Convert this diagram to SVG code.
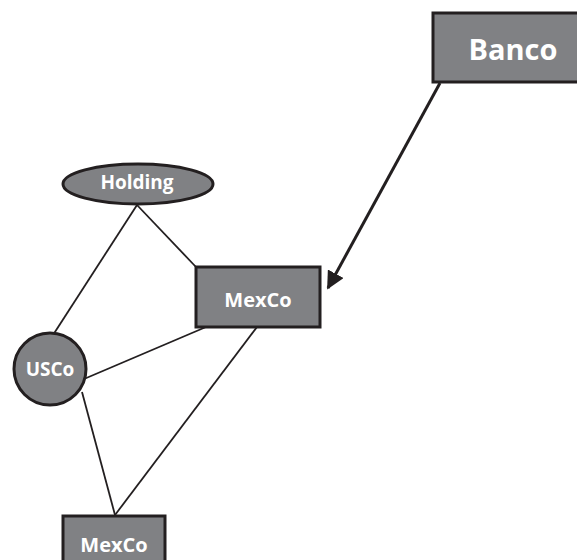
<svg xmlns="http://www.w3.org/2000/svg" width="577" height="560" viewBox="0 0 577 560">
<style>
.n{fill:#808184;stroke:#231f20;stroke-width:3}
.t{fill:#fff;font-family:"Open Sans","Liberation Sans",sans-serif;font-weight:bold;text-anchor:middle;dominant-baseline:central}
.e{stroke:#231f20;stroke-width:1.8;fill:none}
</style>
<defs>
<marker id="ah" viewBox="0 0 10 10" refX="9" refY="5" markerWidth="6" markerHeight="6" markerUnits="strokeWidth" orient="auto"><path d="M0,0L10,5L0,10z" fill="#231f20"/></marker>
</defs>
<rect width="577" height="560" fill="#fff"/>
<g id="connectors">
<line class="e" x1="137" y1="205" x2="53" y2="335"/>
<line class="e" x1="137" y1="205" x2="196" y2="267"/>
<line class="e" x1="84" y1="379" x2="206" y2="327"/>
<line class="e" x1="82" y1="392" x2="115" y2="515"/>
<line class="e" x1="257" y1="327" x2="115" y2="515"/>
<line x1="440" y1="83" x2="328" y2="288" stroke="#231f20" stroke-width="3" marker-end="url(#ah)"/>
</g>
<g id="banco"><rect class="n" x="433" y="13" width="150" height="69"/><text class="t" x="513" y="48" font-size="29">Banco</text></g>
<g id="holding"><ellipse class="n" cx="138" cy="184" rx="75" ry="20"/><text class="t" x="137" y="182" font-size="19">Holding</text></g>
<g id="mexco1"><rect class="n" x="196" y="267" width="124" height="60"/><text class="t" x="258" y="299" font-size="20">MexCo</text></g>
<g id="usco"><circle class="n" cx="50" cy="369" r="36"/><text class="t" x="50" y="369" font-size="19">USCo</text></g>
<g id="mexco2"><rect class="n" x="63" y="516" width="102" height="60"/><text class="t" x="114" y="544" font-size="20">MexCo</text></g>
</svg>
